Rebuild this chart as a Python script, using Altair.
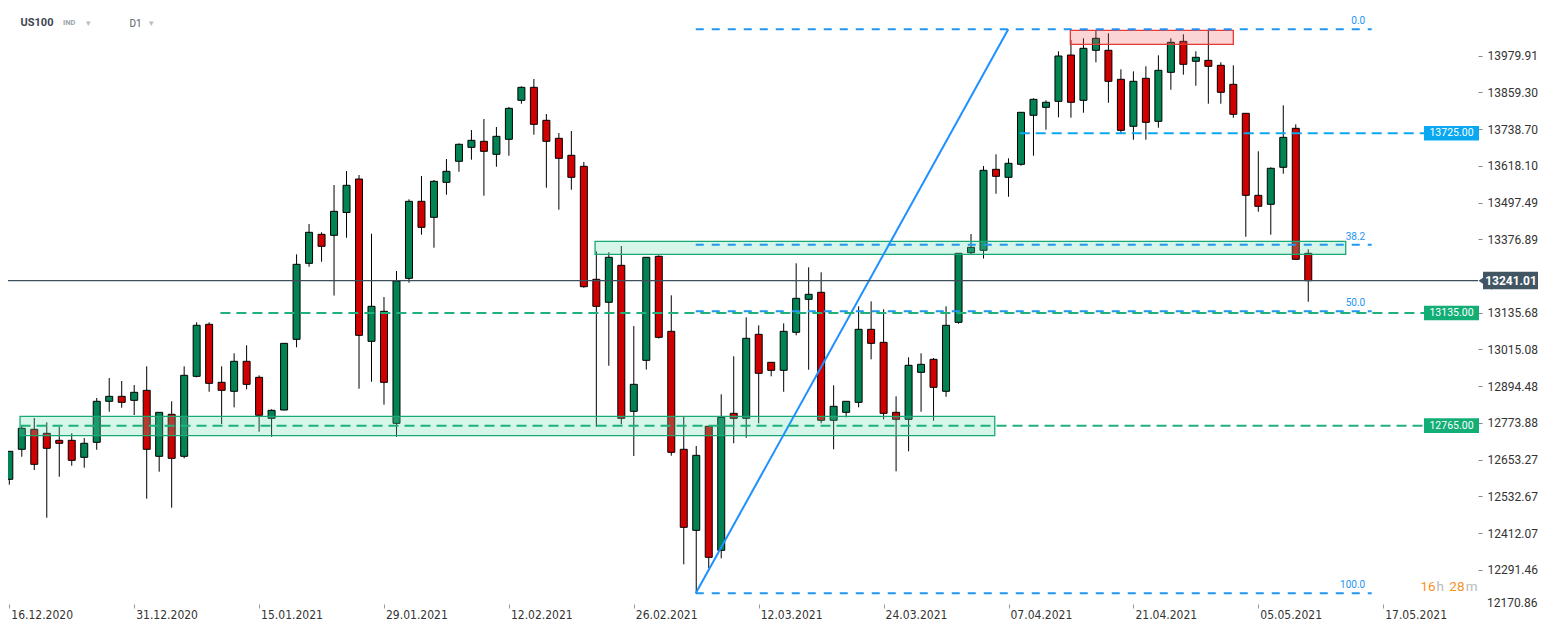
import altair as alt
import pandas as pd

# ---------------- data ----------------
x_tick_index = [0, 10, 20, 30, 40, 50, 60, 70, 80, 90, 100, 110]
x_tick_dates = ["16.12.2020", "31.12.2020", "15.01.2021", "29.01.2021", "12.02.2021",
                "26.02.2021", "12.03.2021", "24.03.2021", "07.04.2021", "21.04.2021",
                "05.05.2021", "17.05.2021"]
y_tick_values = [12291.46, 12412.07, 12532.67, 12653.27, 12773.88, 12894.48,
                 13015.08, 13135.68, 13376.89, 13497.49, 13618.10, 13738.70, 13859.30,
                 13979.91]
y_bottom_label = 12170.86

opens = [12588.9, 12687.4, 12753.0, 12739.9, 12716.9, 12716.9, 12661.1, 12710.3, 12845.0, 12861.3,
         12848.2, 12881.0, 12664.4, 12802.3, 12664.4, 12927.0, 13097.7, 12907.3, 12877.8, 12976.3,
         12923.7, 12789.1, 12816.4, 13048.5, 13298.0, 13393.2, 13389.9, 13464.8, 13574.7, 13041.9,
         13140.4, 12772.7, 13248.7, 13501.5, 13449.0, 13563.9, 13632.9, 13678.8, 13698.5, 13655.8,
         13705.1, 13833.1, 13875.8, 13767.5, 13708.4, 13652.6, 13616.4, 13245.5, 13170.0, 13291.4,
         12812.1, 12979.5, 13321.0, 13074.7, 12687.4, 12421.4, 12762.9, 12355.8, 12805.5, 12789.1,
         13064.9, 12973.0, 12946.7, 13071.5, 13179.8, 13202.8, 12782.6, 12808.8, 12841.6, 13081.3,
         13038.6, 12808.8, 12785.8, 12940.1, 12982.8, 12877.8, 13104.3, 13332.8, 13340.7, 13606.6,
         13580.3, 13623.0, 13783.9, 13810.1, 13829.8, 13981.8, 13833.1, 13997.3, 13997.3, 13902.1,
         13747.8, 13905.3, 13764.2, 13925.0, 14026.8, 13961.2, 13964.4, 13948.0, 13885.6, 13790.4,
         13521.2, 13491.7, 13613.2, 13741.2, 13330.8]
highs = [12680.8, 12764.8, 12790.1, 12776.0, 12760.6, 12739.9, 12724.5, 12855.8, 12921.4, 12911.6,
         12898.4, 12959.8, 12808.8, 12845.0, 12959.8, 13104.3, 13104.3, 12959.8, 13002.5, 13028.8,
         12930.3, 12818.7, 13035.3, 13327.5, 13427.0, 13399.8, 13555.0, 13601.0, 13587.9, 13395.2,
         13187.3, 13272.7, 13508.1, 13584.6, 13571.5, 13640.4, 13691.9, 13735.6, 13771.7, 13745.5,
         13811.1, 13879.1, 13903.0, 13788.1, 13725.8, 13732.3, 13630.6, 13337.4, 13334.1, 13354.8,
         13092.1, 13317.7, 13324.2, 13192.9, 12794.4, 12698.2, 12763.9, 12867.9, 12992.7, 13120.7,
         13094.5, 12973.0, 13101.0, 13298.0, 13284.8, 13268.4, 12897.5, 12845.0, 13156.8, 13173.2,
         13147.0, 12861.3, 12989.4, 13002.5, 12987.1, 13156.8, 13330.8, 13394.2, 13617.4, 13655.8,
         13642.7, 13793.7, 13839.7, 13833.1, 13994.0, 14031.1, 14036.7, 14060.6, 14053.1, 13934.9,
         13928.3, 13944.7, 13980.9, 14036.7, 14049.8, 13994.0, 14063.9, 13957.9, 13948.0, 13790.4,
         13665.7, 13613.2, 13816.7, 13754.3, 13344.0]
lows = [12571.2, 12663.1, 12619.4, 12462.8, 12597.4, 12633.5, 12627.0, 12686.0, 12810.8, 12823.9,
        12800.0, 12525.2, 12613.8, 12495.6, 12657.8, 12923.7, 12876.4, 12770.4, 12825.2, 12884.3,
        12745.1, 12728.7, 12815.4, 13022.2, 13286.8, 13303.2, 13192.3, 13382.0, 12886.3, 12909.3,
        12833.8, 12728.7, 13234.3, 13391.9, 13349.2, 13523.2, 13598.7, 13638.1, 13519.9, 13615.1,
        13651.2, 13822.0, 13720.2, 13546.2, 13474.0, 13539.6, 13217.9, 12761.5, 12961.8, 12769.4,
        12665.4, 12949.3, 13051.1, 12666.3, 12309.8, 12214.6, 12296.7, 12329.5, 12707.1, 12725.4,
        12772.7, 12927.0, 12876.4, 13061.6, 12948.7, 12772.7, 12687.4, 12792.4, 12825.2, 12982.8,
        12785.8, 12615.1, 12680.8, 12810.8, 12781.2, 12860.0, 13099.7, 13328.5, 13313.7, 13526.5,
        13516.6, 13618.4, 13651.2, 13736.6, 13777.3, 13776.0, 13792.4, 13957.9, 13825.2, 13723.5,
        13703.8, 13703.8, 13743.2, 13867.9, 13917.2, 13881.0, 13822.0, 13822.0, 13776.0, 13385.3,
        13467.4, 13391.9, 13592.1, 13311.1, 13171.9]
closes = [12680.8, 12756.3, 12638.1, 12690.7, 12707.1, 12651.2, 12707.1, 12845.0, 12861.3, 12841.6,
          12874.5, 12687.4, 12808.8, 12657.8, 12930.3, 13094.5, 12904.0, 12881.0, 12976.3, 12900.7,
          12799.0, 12815.4, 13035.3, 13294.7, 13399.8, 13353.8, 13468.7, 13554.1, 13061.6, 13156.8,
          12907.3, 13239.9, 13501.5, 13416.2, 13567.2, 13600.0, 13688.7, 13701.8, 13665.7, 13714.9,
          13806.8, 13875.8, 13754.3, 13698.5, 13642.7, 13580.3, 13221.2, 13156.8, 13317.7, 12789.1,
          12900.7, 13317.7, 13055.0, 12677.5, 12431.3, 12667.6, 12332.8, 12792.4, 12789.1, 13051.8,
          12936.9, 12946.7, 13074.7, 13183.1, 13196.2, 12782.6, 12828.5, 12845.0, 13081.3, 13035.3,
          12805.5, 12785.8, 12963.1, 12966.4, 12890.9, 13094.5, 13330.8, 13350.5, 13603.3, 13583.6,
          13626.3, 13793.7, 13836.4, 13826.6, 13978.6, 13826.6, 14003.8, 14036.7, 13895.5, 13734.6,
          13895.5, 13760.9, 13931.6, 14023.5, 13951.3, 13974.3, 13944.7, 13859.4, 13787.2, 13521.2,
          13485.1, 13609.9, 13711.6, 13311.1, 13241.01]

current_price = 13241.01

level_values = [13725.0, 13135.0, 12765.0]
level_start = [80.9, 16.9, 0.9]
level_end = [113.3, 113.3, 113.3]
level_colors = ["#0aa8f0", "#1fb17c", "#1fb17c"]
level_box_colors = ["#0aa8f0", "#13ae76", "#13ae76"]

fib_values = [14066.2, 13358.9, 13140.4, 12214.6]
fib_labels = ["0.0", "38.2", "50.0", "100.0"]
fib_start = 54.96
fib_end = 109.08
trend_x = [54.96, 79.98]
trend_y = [12214.6, 14066.2]

zone_x1 = [0.86, 46.9, 84.95]
zone_x2 = [78.9, 107.0, 98.0]
zone_top = [12795.7, 13370.2, 14063.0]
zone_bottom = [12732.0, 13327.6, 14017.0]
zone_fill = ["#64dcaa", "#64dcaa", "#f06464"]
zone_stroke = ["#1aa874", "#1aa874", "#e53935"]

# ---------------- chart ----------------
GREEN = "#018354"
RED = "#d10000"
PLOT_W = 1470
PLOT_H = 599

xs = alt.Scale(domain=[-0.104, 117.59], nice=False, zero=False, padding=0)
ys = alt.Scale(domain=[12169.7, 14136.18], nice=False, zero=False, padding=0)

df = pd.DataFrame({"i": list(range(len(opens))), "open": opens, "high": highs,
                   "low": lows, "close": closes})
df["dir"] = ["up" if c >= o else "down" for o, c in zip(opens, closes)]

label_expr = "[" + ",".join("'%s'" % d for d in x_tick_dates) + "][round(datum.value/10)]"

XA = alt.Axis(values=x_tick_index, labelExpr=label_expr, orient="bottom", offset=-3,
              domain=False, grid=False, tickSize=4, tickColor="#999999", tickWidth=1,
              labelAlign="left", labelBaseline="top", labelPadding=1,
              labelFont="DejaVu Sans Condensed", labelFontSize=12, labelColor="#333333",
              labelFlush=False, labelOverlap=False, labelOffset=1.5, title=None)
YA = alt.Axis(values=y_tick_values, format=".2f", orient="right", domain=False, grid=False,
              tickSize=4, tickColor="#888888", tickWidth=1, labelFont="Roboto",
              labelFontSize=12, labelColor="#333333", labelPadding=5, labelOverlap=False,
              title=None)


def X(f):
    return alt.X(f, scale=xs, axis=XA)


def Y(f):
    return alt.Y(f, scale=ys, axis=YA)


wicks = alt.Chart(df).mark_rule(color="black", strokeWidth=1).encode(
    x=X("i:Q"), y=Y("low:Q"), y2="high:Q")
bodies = alt.Chart(df).mark_bar(size=7, stroke="black", strokeWidth=1).encode(
    x=X("i:Q"), y=Y("open:Q"), y2="close:Q",
    color=alt.Color("dir:N", scale=alt.Scale(domain=["up", "down"], range=[GREEN, RED]), legend=None),
)

zones_df = pd.DataFrame({"x1": zone_x1, "x2": zone_x2, "top": zone_top, "bottom": zone_bottom,
                         "fill": zone_fill, "stroke": zone_stroke})
zones = alt.Chart(zones_df).mark_rect(fillOpacity=0.27, strokeWidth=1.3).encode(
    x=X("x1:Q"), x2="x2:Q", y=Y("top:Q"), y2="bottom:Q",
    fill=alt.Fill("fill:N", scale=None), stroke=alt.Stroke("stroke:N", scale=None),
)

fib_df = pd.DataFrame({"v": fib_values, "lab": fib_labels, "x1": [fib_start] * 4, "x2": [fib_end] * 4})
fib_lines = alt.Chart(fib_df).mark_rule(color="#2196f3", strokeWidth=2, strokeDash=[8, 8]).encode(
    x=X("x1:Q"), x2="x2:Q", y=Y("v:Q"))
fib_text = alt.Chart(fib_df).mark_text(color="#2196f3", fontSize=10, font="Roboto", align="right",
                                       baseline="middle", dx=-6.5, dy=-8).encode(
    x=X("x2:Q"), y=Y("v:Q"), text="lab:N")

trend_df = pd.DataFrame({"x": trend_x, "y": trend_y})
trend = alt.Chart(trend_df).mark_line(color="#1e90ff", strokeWidth=2).encode(
    x=X("x:Q"), y=Y("y:Q"))

lev_df = pd.DataFrame({"v": level_values, "x1": level_start, "x2": level_end,
                       "col": level_colors, "box": level_box_colors})
lev_lines = alt.Chart(lev_df).mark_rule(strokeWidth=2, strokeDash=[10, 6]).encode(
    x=X("x1:Q"), x2="x2:Q", y=Y("v:Q"), color=alt.Color("col:N", scale=None))
lev_boxes = alt.Chart(lev_df).transform_calculate(
    t="datum.v + 24", b="datum.v - 24").mark_rect().encode(
    x=alt.value(1416), x2=alt.value(1471), y=Y("t:Q"), y2="b:Q",
    color=alt.Color("box:N", scale=None))
lev_text = alt.Chart(lev_df).mark_text(color="white", fontSize=10.5, font="Roboto",
                                       align="center", baseline="middle").encode(
    x=alt.value(1443.5), y=Y("v:Q"), text=alt.Text("v:Q", format=".2f"))

bottom_df = pd.DataFrame({"v": [y_bottom_label]})
bottom_label = alt.Chart(bottom_df).mark_text(color="#333333", fontSize=12, font="Roboto",
                                              align="left", baseline="middle", dy=-4).encode(
    x=alt.value(1479), y=Y("v:Q"), text=alt.Text("v:Q", format=".2f"))

price_df = pd.DataFrame({"p": [current_price]})
price_line = alt.Chart(price_df).mark_rule(color="#3e4f5b", strokeWidth=1.4).encode(
    y=Y("p:Q"), x=alt.value(0), x2=alt.value(PLOT_W))
price_box = alt.Chart(price_df).transform_calculate(
    t="datum.p + 29", b="datum.p - 28").mark_rect(color="#425563").encode(
    x=alt.value(1475), x2=alt.value(1534), y=Y("t:Q"), y2="b:Q")
price_tip = alt.Chart(price_df).mark_point(shape="M1,-1L-0.5,0L1,1Z", filled=True, size=324,
                                           color="#425563", opacity=1).encode(
    x=alt.value(1475), y=Y("p:Q"))
price_text = alt.Chart(price_df).mark_text(color="white", fontSize=12, fontWeight="bold",
                                           font="Roboto", align="center", baseline="middle").encode(
    x=alt.value(1503), y=Y("p:Q"), text=alt.Text("p:Q", format=".2f"))


def label(txt, x, y, size, color, weight="normal", align="left"):
    return alt.Chart(pd.DataFrame({"t": [txt]})).mark_text(
        fontSize=size, color=color, fontWeight=weight, font="Roboto", align=align,
        baseline="middle").encode(text="t:N", x=alt.value(x), y=alt.value(y))


header = [
    label("US100", 12.5, 15, 11, "#3c4650", "bold"),
    label("IND", 55, 15, 7.5, "#9aa3ab", "bold"),
    label("▾", 78, 14.5, 9, "#b8bec4"),
    label("D1", 121.5, 15.5, 10, "#555f66"),
    label("▾", 141, 14.5, 9, "#b8bec4"),
]
timer = [
    label("16", 1412.5, 579, 13.5, "#f7931e"),
    label("h", 1428.5, 579, 13.5, "#b9b9b9"),
    label("28", 1441.3, 579, 13.5, "#f7931e"),
    label("m", 1457.8, 579, 13.5, "#b9b9b9"),
]

chart = alt.layer(
    wicks, bodies, zones, fib_lines, fib_text, trend, lev_lines, price_line,
    lev_boxes, lev_text, bottom_label, price_box, price_tip, price_text, *header, *timer
).properties(
    width=PLOT_W, height=PLOT_H,
    padding={"left": 0, "top": 0, "right": 60, "bottom": 13},
    autosize=alt.AutoSizeParams(type="none"),
    background="white",
).configure(font="Roboto").configure_view(stroke=None)

chart.save("out.html", embed_options={"renderer": "svg", "actions": False})
